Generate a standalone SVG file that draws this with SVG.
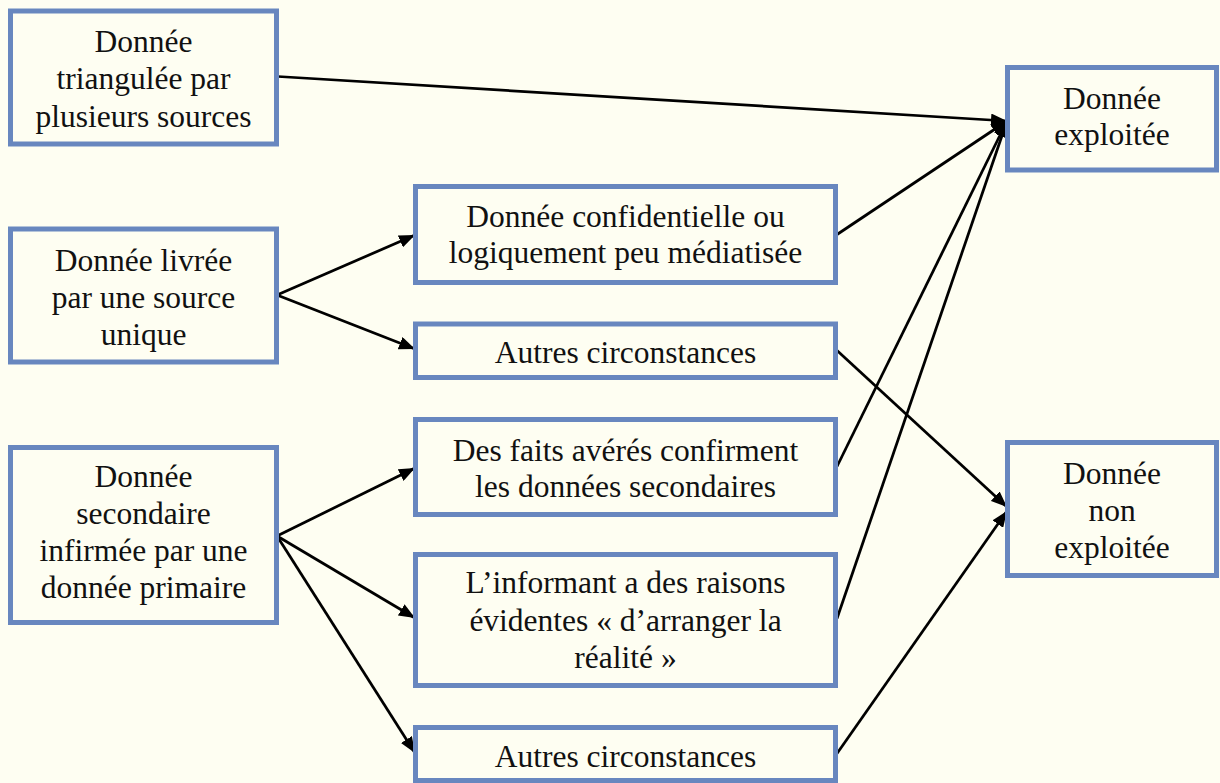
<svg xmlns="http://www.w3.org/2000/svg" width="1220" height="783" viewBox="0 0 1220 783">
<style>
.box{fill:#FEFEF2;stroke:#6887BF;stroke-width:5}
.t{font-size:31.5px;fill:#111;text-anchor:middle}
.c{stroke:#000;stroke-width:2.75;fill:none;marker-end:url(#ah)}
</style>
<defs>
<marker id="ah" markerUnits="userSpaceOnUse" markerWidth="17" markerHeight="13" refX="16" refY="6.5" orient="auto">
<path d="M0,0 L16,6.5 L0,13 z" fill="#000"/>
</marker>
</defs>
<rect width="1220" height="783" fill="#FEFEF2"/>
<g id="connectors">
<line class="c" x1="278" y1="76.5" x2="1007" y2="121"/>
<line class="c" x1="837" y1="234.5" x2="1007" y2="121"/>
<line class="c" x1="837" y1="466.5" x2="1007" y2="121"/>
<line class="c" x1="837" y1="618.5" x2="1007" y2="121"/>
<line class="c" x1="837" y1="350.5" x2="1007" y2="507"/>
<line class="c" x1="837" y1="753.5" x2="1007" y2="511"/>
<line class="c" x1="277" y1="295" x2="415" y2="235"/>
<line class="c" x1="277" y1="295" x2="415" y2="349"/>
<line class="c" x1="277" y1="536" x2="415" y2="468"/>
<line class="c" x1="277" y1="536" x2="415" y2="618"/>
<line class="c" x1="277" y1="536" x2="415" y2="753"/>
</g>
<g font-family="Liberation Serif, Times New Roman, serif">
<g id="n-triangulee">
<rect class="box" x="10.5" y="11" width="266" height="133"/>
<text class="t" x="143.5" y="51.7">Donnée</text>
<text class="t" x="143.5" y="89">triangulée par</text>
<text class="t" x="143.5" y="126.5">plusieurs sources</text>
</g>
<g id="n-livree">
<rect class="box" x="10.5" y="229" width="266" height="133"/>
<text class="t" x="143.5" y="271">Donnée livrée</text>
<text class="t" x="143.5" y="308">par une source</text>
<text class="t" x="143.5" y="345">unique</text>
</g>
<g id="n-secondaire">
<rect class="box" x="10.5" y="447.5" width="266" height="175"/>
<text class="t" x="143.5" y="486.7">Donnée</text>
<text class="t" x="143.5" y="523.5">secondaire</text>
<text class="t" x="143.5" y="560.5">infirmée par une</text>
<text class="t" x="143.5" y="597.5">donnée primaire</text>
</g>
<g id="n-confidentielle">
<rect class="box" x="415.5" y="186.5" width="420" height="96"/>
<text class="t" x="625.5" y="226.7">Donnée confidentielle ou</text>
<text class="t" x="625.5" y="263.3">logiquement peu médiatisée</text>
</g>
<g id="n-autres1">
<rect class="box" x="415.5" y="324" width="420" height="53.5"/>
<text class="t" x="625.5" y="362.5">Autres circonstances</text>
</g>
<g id="n-faits">
<rect class="box" x="415.5" y="419.5" width="420" height="95"/>
<text class="t" x="625.5" y="460.5">Des faits avérés confirment</text>
<text class="t" x="625.5" y="497">les données secondaires</text>
</g>
<g id="n-informant">
<rect class="box" x="415.5" y="554.5" width="420" height="131"/>
<text class="t" x="625.5" y="593.3">L’informant a des raisons</text>
<text class="t" x="625.5" y="631">évidentes « d’arranger la</text>
<text class="t" x="625.5" y="668.3">réalité »</text>
</g>
<g id="n-autres2">
<rect class="box" x="415.5" y="727.5" width="420" height="53"/>
<text class="t" x="625.5" y="766.5">Autres circonstances</text>
</g>
<g id="n-exploitee">
<rect class="box" x="1007.5" y="67.5" width="209" height="102.5"/>
<text class="t" x="1112" y="108.5">Donnée</text>
<text class="t" x="1112" y="145.3">exploitée</text>
</g>
<g id="n-non-exploitee">
<rect class="box" x="1007.5" y="442.5" width="209" height="133"/>
<text class="t" x="1112" y="484">Donnée</text>
<text class="t" x="1112" y="521">non</text>
<text class="t" x="1112" y="558">exploitée</text>
</g>
</g>
</svg>
